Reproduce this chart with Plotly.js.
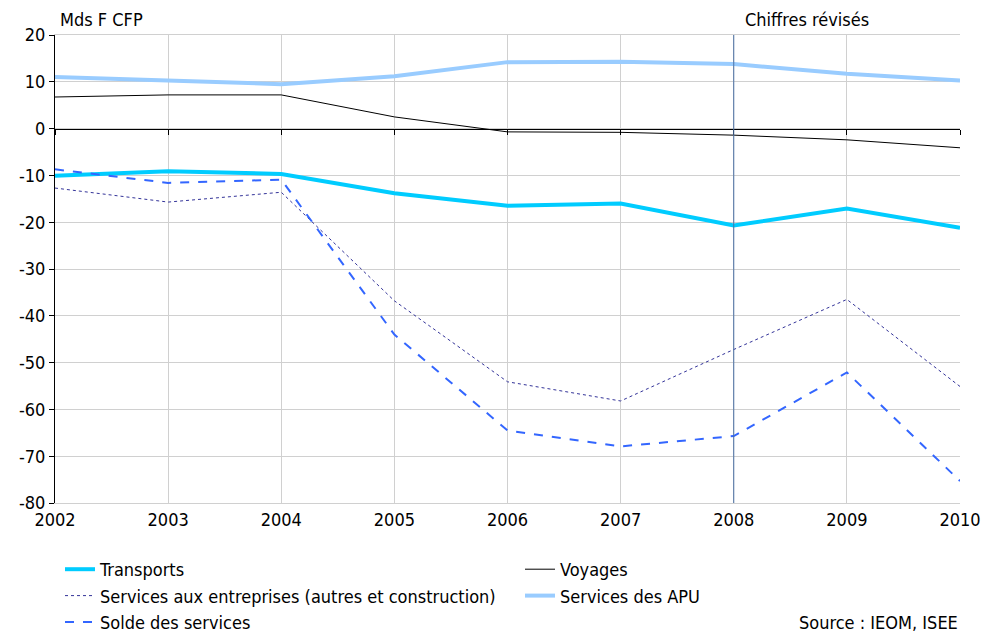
<!DOCTYPE html>
<html>
<head>
<meta charset="utf-8">
<script src="https://cdn.plot.ly/plotly-3.0.1.min.js"></script>
<style>html,body{margin:0;padding:0;background:#fff;}#chart{width:984px;height:632px;}</style>
</head>
<body>
<div id="chart"></div>
<script>
const years = [2002, 2003, 2004, 2005, 2006, 2007, 2008, 2009, 2010];
const transports = [-10.1, -9.1, -9.7, -13.8, -16.5, -16.0, -20.7, -17.1, -21.2];
const voyages = [6.75, 7.2, 7.2, 2.5, -0.7, -0.8, -1.4, -2.4, -4.1];
const entreprises = [-12.7, -15.7, -13.6, -36.8, -54.1, -58.2, -47.2, -36.5, -55.1];
const apu = [11.0, 10.2, 9.5, 11.2, 14.2, 14.3, 13.8, 11.7, 10.3];
const solde = [-8.7, -11.6, -10.9, -44.0, -64.5, -67.9, -65.7, -52.1, -75.3];
const seriesNames = ["Transports", "Voyages", "Services aux entreprises (autres et construction)", "Services des APU", "Solde des services"];
const yTicks = [20, 10, 0, -10, -20, -30, -40, -50, -60, -70, -80];
const revisedYear = 2008;

const FONT = "DejaVu Sans Condensed, DejaVu Sans, sans-serif";
const FS = 18;

const traces = [
  {x: years, y: transports, name: seriesNames[0], legend: "legend", mode: "lines", line: {color: "#00ccff", width: 4}},
  {x: years, y: voyages, name: seriesNames[1], legend: "legend2", mode: "lines", line: {color: "#000000", width: 1}},
  {x: years, y: entreprises, name: seriesNames[2], legend: "legend", mode: "lines", line: {color: "#333399", width: 1, dash: "dot"}},
  {x: years, y: apu, name: seriesNames[3], legend: "legend2", mode: "lines", line: {color: "#99ccff", width: 4}},
  {x: years, y: solde, name: seriesNames[4], legend: "legend", mode: "lines", line: {color: "#3366ff", width: 2, dash: "dash"}},
  {x: years, y: years.map(() => 0), xaxis: "x2", mode: "lines", line: {width: 0}, showlegend: false, hoverinfo: "skip", opacity: 0}
];

const legendCommon = {
  orientation: "v", xref: "container", yref: "container", xanchor: "left", yanchor: "top",
  font: {family: FONT, size: FS}, bgcolor: "rgba(0,0,0,0)", itemwidth: 30, tracegroupgap: 0
};

const layout = {
  width: 984, height: 632,
  margin: {l: 55, r: 24, t: 35, b: 129, autoexpand: false},
  paper_bgcolor: "#ffffff", plot_bgcolor: "#ffffff",
  font: {family: FONT, size: FS, color: "#000"},
  showlegend: true,
  xaxis: {
    range: [2002, 2010], tickvals: years, ticktext: years.map(String),
    showgrid: true, gridcolor: "#d0d0d0", gridwidth: 1,
    zeroline: false, showline: true, linecolor: "#d0d0d0", ticks: "",
    tickfont: {family: FONT, size: FS}, mirror: true
  },
  xaxis2: {
    overlaying: "x", anchor: "free", position: 0.8, side: "bottom",
    range: [2002, 2010], tickvals: years, showticklabels: false,
    showgrid: false, zeroline: false, showline: true, linecolor: "#000", linewidth: 1,
    ticks: "outside", ticklen: 5, tickcolor: "#000", tickwidth: 1
  },
  yaxis: {
    range: [-80, 20], tickvals: yTicks, ticktext: yTicks.map(String),
    showgrid: true, gridcolor: "#d0d0d0", gridwidth: 1,
    zeroline: false, showline: true, linecolor: "#000", linewidth: 1,
    ticks: "outside", ticklen: 5, tickcolor: "#000",
    tickfont: {family: FONT, size: FS}
  },
  shapes: [
    {type: "line", xref: "x", yref: "paper", x0: revisedYear, x1: revisedYear, y0: 0, y1: 1, line: {color: "#4a6fa5", width: 1}}
  ],
  annotations: [
    {text: "Mds F CFP", xref: "paper", yref: "paper", x: 0.003, y: 1.0, xanchor: "left", yanchor: "bottom", yshift: 3, showarrow: false, font: {family: FONT, size: FS}},
    {text: "Chiffres révisés", xref: "x", yref: "paper", x: 2008.08, y: 1.0, xanchor: "left", yanchor: "bottom", yshift: 3, showarrow: false, font: {family: FONT, size: FS}},
    {text: "Source : IEOM, ISEE", xref: "paper", yref: "paper", x: (960 - 55) / 905, y: -(622 - 503) / 468, xanchor: "right", yanchor: "middle", showarrow: false, font: {family: FONT, size: FS}}
  ],
  legend: Object.assign({}, legendCommon, {x: 60 / 984, y: (632 - 551) / 632}),
  legend2: Object.assign({}, legendCommon, {x: 520 / 984, y: (632 - 551) / 632})
};

Plotly.newPlot("chart", traces, layout, {displayModeBar: false, staticPlot: true});
</script>
</body>
</html>
